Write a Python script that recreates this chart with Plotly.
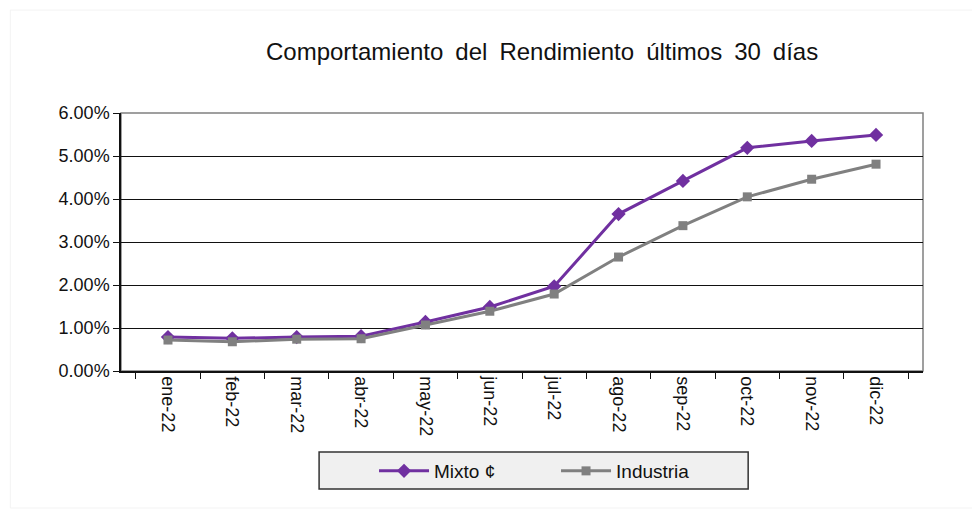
import plotly.graph_objects as go

# ── datos ─────────────────────────────────────────────────────────────────
MESES = ["ene-22", "feb-22", "mar-22", "abr-22", "may-22", "jun-22",
         "jul-22", "ago-22", "sep-22", "oct-22", "nov-22", "dic-22"]
MIXTO = [0.0079, 0.0076, 0.0079, 0.0081, 0.0114, 0.0149,
         0.0197, 0.0365, 0.0442, 0.0519, 0.0535, 0.0549]
INDUSTRIA = [0.0072, 0.0068, 0.0074, 0.0075, 0.0107, 0.0139,
             0.0179, 0.0265, 0.0338, 0.0405, 0.0446, 0.0481]

FONT = "Liberation Sans, Arial, sans-serif"
PURPLE = "#7030a0"
GRAY = "#808080"
SP = "\u2002"  # espacio ancho entre palabras del título

fig = go.Figure()
fig.add_trace(go.Scatter(
    x=MESES, y=MIXTO, name="Mixto ¢",
    mode="lines+markers",
    line=dict(color=PURPLE, width=3),
    marker=dict(symbol="diamond", size=11, color=PURPLE),
))
fig.add_trace(go.Scatter(
    x=MESES, y=INDUSTRIA, name="Industria",
    mode="lines+markers",
    line=dict(color=GRAY, width=3),
    marker=dict(symbol="square", size=9, color=GRAY),
))

# borde del área de trazado (gris arriba/derecha)
fig.add_shape(type="rect", xref="paper", yref="paper", x0=0, y0=0, x1=1, y1=1,
              line=dict(color=GRAY, width=1.5), layer="below")
# caja de la leyenda
fig.add_shape(type="rect", xref="paper", yref="paper",
              x0=0.247, y0=-0.457, x1=0.782, y1=-0.314,
              line=dict(color="#333", width=1.5), fillcolor="#f0f0f0", layer="below")
# borde exterior muy tenue
fig.add_shape(type="rect", xref="paper", yref="paper",
              x0=-0.138, y0=-0.531, x1=1.069, y1=1.399,
              line=dict(color="#f3f3f3", width=1))

title = SP.join(["Comportamiento", "del", "Rendimiento", "últimos", "30", "días"])

fig.update_layout(
    width=980, height=510,
    title=dict(text=title,
               font=dict(family=FONT, size=24, color="#111"),
               x=0.545, xanchor="center", y=0.914, yanchor="middle"),
    font=dict(family=FONT, color="#111"),
    paper_bgcolor="white", plot_bgcolor="white",
    margin=dict(l=113, r=65, t=105, b=147),
    xaxis=dict(
        type="category", showgrid=False, tickson="boundaries",
        ticks="outside", ticklen=6, tickcolor="#111",
        showline=True, linecolor="#111", linewidth=1.5,
        tickangle=90, tickfont=dict(family=FONT, size=18, color="#111"),
    ),
    yaxis=dict(
        range=[0, 0.06], dtick=0.01, tickformat=".2%",
        showgrid=True, gridcolor="#111", gridwidth=1, zeroline=False,
        ticks="outside", ticklen=6, tickcolor="#111",
        showline=True, linecolor="#111", linewidth=1.5,
        tickfont=dict(family=FONT, size=18, color="#111"),
    ),
    legend=dict(
        orientation="h", x=0.3155, xanchor="left", y=-0.314, yanchor="top",
        bgcolor="rgba(0,0,0,0)", borderwidth=0,
        font=dict(family=FONT, size=19, color="#111"),
        entrywidth=117, itemwidth=50,
    ),
)

fig.write_html("out.html")
